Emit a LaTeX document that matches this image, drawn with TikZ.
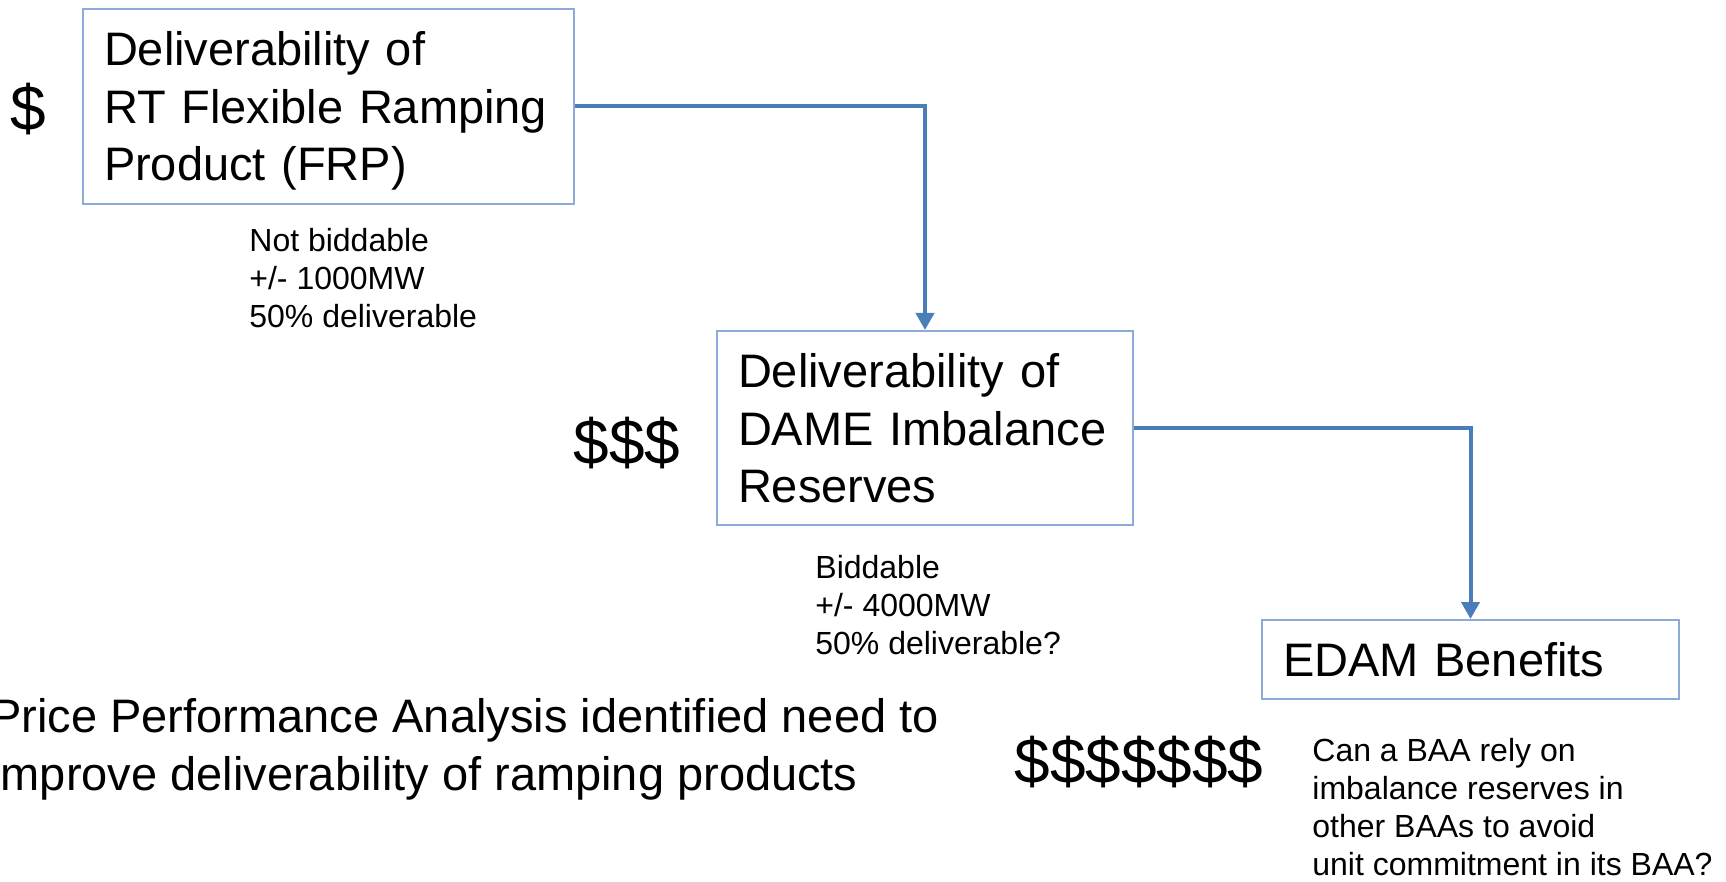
\documentclass[tikz,border=0pt]{standalone}
\usepackage{fontspec}
\setmainfont{Liberation Sans}
\usetikzlibrary{arrows.meta}
\definecolor{boxblue}{RGB}{142,170,216}
\definecolor{linkblue}{RGB}{74,126,187}
\newcommand\boxstrut{\rule[-5pt]{0pt}{27pt}}

\begin{document}
\begin{tikzpicture}[x=0.5pt, y=-0.5pt,
        box/.style={draw=boxblue, line width=1pt, inner xsep=10.5pt, inner ysep=0pt, align=left, anchor=north west, font=\fontsize{23.5}{28.75}\selectfont, execute at begin node=\boxstrut, execute at end node=\boxstrut},
        link/.style={draw=linkblue, line width=2pt, -{Triangle[width=9pt,length=8.5pt]}},
        note/.style={anchor=base west, align=left, inner sep=0pt, font=\fontsize{16}{19}\selectfont},
        cost/.style={inner sep=0pt, font=\fontsize{32}{38}\selectfont}]
        \path[use as bounding box, clip] (0,0) rectangle (1726,882);

        % Products and benefits
        \node[box, text width=224.5pt, minimum height=97.5pt] (frp) at (82,8) {Deliverability of\\RT Flexible Ramping\\Product (FRP)};
        \node[box, text width=187pt, minimum height=97pt] (dame) at (716,330) {Deliverability of\\DAME Imbalance\\Reserves};
        \node[box, text width=187.5pt, minimum height=39.5pt] (edam) at (1261,619) {EDAM Benefits};

        % Value of each step
        \node[cost] (frpcost) at (28,109) {\$};
        \node[cost] (damecost) at (627,443) {\$\$\$};
        \node[cost] (edamcost) at (1139,762) {\$\$\$\$\$\$\$};

        % Notes under the boxes (anchored on their last line)
        \node[note] (frpnote) at (249,328) {Not biddable\\+/- 1000MW\\50\% deliverable};
        \node[note] (damenote) at (815,654) {Biddable\\+/- 4000MW\\50\% deliverable?};
        \node[note] (edamnote) at (1312,875) {Can a BAA rely on\\imbalance reserves in\\other BAAs to avoid\\unit commitment in its BAA?};

        \node[anchor=base west, align=left, inner sep=0pt, font=\fontsize{23.5}{29}\selectfont] (finding) at (-10,790) {Price Performance Analysis identified need to\\improve deliverability of ramping products};

        % Connectors
        \draw[link] (frp.east) -| (dame.north);
        \draw[link] (dame.east) -| (edam.north);
    \end{tikzpicture}
\end{document}
